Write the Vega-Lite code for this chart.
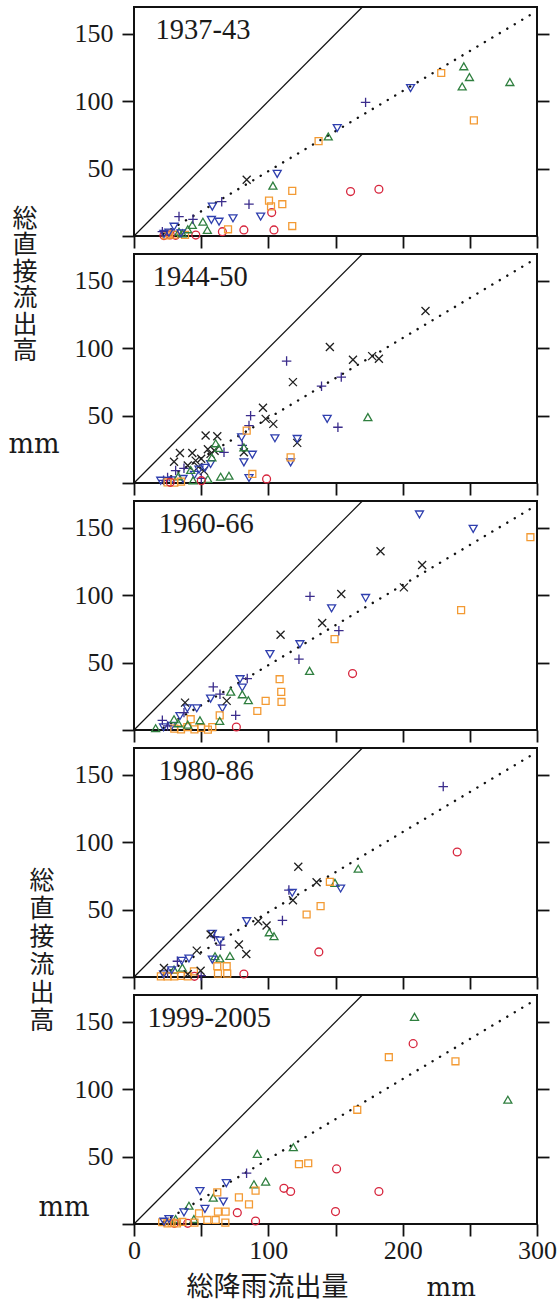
{
"$schema":"https://vega.github.io/schema/vega-lite/v6.json",
"padding":{"left":7,"top":3,"right":0,"bottom":6},
"background":"white",
"bounds":"flush",
"spacing":18,
"datasets":{
"ref":[{"k":"one","x":0,"y":0},{"k":"one","x":170,"y":170},{"k":"fit","x":22,"y":1.7},{"k":"fit","x":300,"y":167.1}],
"pts":[
{"p":"1937-43","s":"circle","x":161.2,"y":33.0},{"p":"1937-43","s":"circle","x":182.3,"y":34.7},{"p":"1937-43","s":"circle","x":102.5,"y":17.4},{"p":"1937-43","s":"circle","x":104.2,"y":4.5},{"p":"1937-43","s":"circle","x":81.8,"y":4.5},{"p":"1937-43","s":"circle","x":65.8,"y":3.2},{"p":"1937-43","s":"circle","x":46,"y":0.7},{"p":"1937-43","s":"circle","x":31,"y":0.5},{"p":"1937-43","s":"circle","x":22.3,"y":0.3},{"p":"1937-43","s":"circle","x":27,"y":0.8},
{"p":"1937-43","s":"square","x":228.7,"y":121},{"p":"1937-43","s":"square","x":253,"y":85.8},{"p":"1937-43","s":"square","x":137.4,"y":70.4},{"p":"1937-43","s":"square","x":117.8,"y":33.5},{"p":"1937-43","s":"square","x":100.5,"y":26.3},{"p":"1937-43","s":"square","x":110.4,"y":23.6},{"p":"1937-43","s":"square","x":102,"y":22},{"p":"1937-43","s":"square","x":117.8,"y":7.4},{"p":"1937-43","s":"square","x":70,"y":5},{"p":"1937-43","s":"square","x":23.6,"y":0.5},{"p":"1937-43","s":"square","x":30,"y":1},{"p":"1937-43","s":"square","x":38,"y":0.8},{"p":"1937-43","s":"square","x":26,"y":2},
{"p":"1937-43","s":"triangle-up","x":245.5,"y":126},{"p":"1937-43","s":"triangle-up","x":249.7,"y":118},{"p":"1937-43","s":"triangle-up","x":244.3,"y":111},{"p":"1937-43","s":"triangle-up","x":279.8,"y":114.3},{"p":"1937-43","s":"triangle-up","x":144.6,"y":73.9},{"p":"1937-43","s":"triangle-up","x":103.4,"y":37.4},{"p":"1937-43","s":"triangle-up","x":51.3,"y":10.6},{"p":"1937-43","s":"triangle-up","x":43.4,"y":8.2},{"p":"1937-43","s":"triangle-up","x":54.6,"y":4.5},{"p":"1937-43","s":"triangle-up","x":33.5,"y":3.2},{"p":"1937-43","s":"triangle-up","x":40,"y":5},{"p":"1937-43","s":"triangle-up","x":36,"y":2},
{"p":"1937-43","s":"triangle-down","x":205.9,"y":109.8},{"p":"1937-43","s":"triangle-down","x":151.3,"y":80.1},{"p":"1937-43","s":"triangle-down","x":106.6,"y":46.1},{"p":"1937-43","s":"triangle-down","x":94.3,"y":14.4},{"p":"1937-43","s":"triangle-down","x":73.7,"y":13.1},{"p":"1937-43","s":"triangle-down","x":58.3,"y":21.8},{"p":"1937-43","s":"triangle-down","x":57.6,"y":11.9},{"p":"1937-43","s":"triangle-down","x":63.3,"y":10.6},{"p":"1937-43","s":"triangle-down","x":29.8,"y":6.9},{"p":"1937-43","s":"triangle-down","x":26,"y":2.5},{"p":"1937-43","s":"triangle-down","x":22.3,"y":1.5},{"p":"1937-43","s":"triangle-down","x":35,"y":2},
{"p":"1937-43","s":"cross","x":172.4,"y":99.2},{"p":"1937-43","s":"cross","x":85.6,"y":23.6},{"p":"1937-43","s":"cross","x":65.3,"y":25.5},{"p":"1937-43","s":"cross","x":33.5,"y":14.4},{"p":"1937-43","s":"cross","x":43.9,"y":12.4},{"p":"1937-43","s":"cross","x":21.1,"y":3.2},
{"p":"1937-43","s":"x","x":83.9,"y":41.7},

{"p":"1944-50","s":"x","x":217,"y":127.7},{"p":"1944-50","s":"x","x":145.8,"y":100.9},{"p":"1944-50","s":"x","x":163,"y":91.5},{"p":"1944-50","s":"x","x":177.3,"y":94.2},{"p":"1944-50","s":"x","x":182.3,"y":92.3},{"p":"1944-50","s":"x","x":118.3,"y":74.9},{"p":"1944-50","s":"x","x":96,"y":55.8},{"p":"1944-50","s":"x","x":98,"y":47.6},{"p":"1944-50","s":"x","x":103.7,"y":43.9},{"p":"1944-50","s":"x","x":121.5,"y":29.8},{"p":"1944-50","s":"x","x":53.3,"y":35.2},{"p":"1944-50","s":"x","x":62,"y":34.7},{"p":"1944-50","s":"x","x":57,"y":21.6},{"p":"1944-50","s":"x","x":81.8,"y":22.8},{"p":"1944-50","s":"x","x":34.2,"y":22.3},{"p":"1944-50","s":"x","x":43.4,"y":22.3},{"p":"1944-50","s":"x","x":29.8,"y":15.8},{"p":"1944-50","s":"x","x":45.9,"y":16.6},{"p":"1944-50","s":"x","x":50,"y":18},{"p":"1944-50","s":"x","x":55,"y":25},{"p":"1944-50","s":"x","x":40,"y":13},{"p":"1944-50","s":"x","x":48,"y":12},{"p":"1944-50","s":"x","x":52,"y":9},{"p":"1944-50","s":"x","x":60,"y":24},
{"p":"1944-50","s":"cross","x":113.6,"y":90.5},{"p":"1944-50","s":"cross","x":154.3,"y":78.6},{"p":"1944-50","s":"cross","x":139.6,"y":71.9},{"p":"1944-50","s":"cross","x":151.8,"y":41.4},{"p":"1944-50","s":"cross","x":86.8,"y":50},{"p":"1944-50","s":"cross","x":85.6,"y":42.6},{"p":"1944-50","s":"cross","x":67,"y":22.8},{"p":"1944-50","s":"cross","x":37.2,"y":10.9},{"p":"1944-50","s":"cross","x":31,"y":9.2},{"p":"1944-50","s":"cross","x":50.1,"y":3.5},{"p":"1944-50","s":"cross","x":25,"y":4},{"p":"1944-50","s":"cross","x":22,"y":2},{"p":"1944-50","s":"cross","x":80.6,"y":28},
{"p":"1944-50","s":"triangle-down","x":143.8,"y":47.6},{"p":"1944-50","s":"triangle-down","x":104.9,"y":33.2},{"p":"1944-50","s":"triangle-down","x":121.5,"y":32.7},{"p":"1944-50","s":"triangle-down","x":116.6,"y":15.3},{"p":"1944-50","s":"triangle-down","x":80.1,"y":33.9},{"p":"1944-50","s":"triangle-down","x":81.8,"y":15.3},{"p":"1944-50","s":"triangle-down","x":88.1,"y":21},{"p":"1944-50","s":"triangle-down","x":85.6,"y":3.7},{"p":"1944-50","s":"triangle-down","x":48.4,"y":9.9},{"p":"1944-50","s":"triangle-down","x":57,"y":14.1},{"p":"1944-50","s":"triangle-down","x":52.8,"y":11.2},{"p":"1944-50","s":"triangle-down","x":36.5,"y":3},{"p":"1944-50","s":"triangle-down","x":19.9,"y":1.7},{"p":"1944-50","s":"triangle-down","x":28,"y":2},{"p":"1944-50","s":"triangle-down","x":45,"y":6},
{"p":"1944-50","s":"triangle-up","x":174.1,"y":48.9},{"p":"1944-50","s":"triangle-up","x":60.8,"y":29.5},{"p":"1944-50","s":"triangle-up","x":81.8,"y":26.5},{"p":"1944-50","s":"triangle-up","x":42.2,"y":9.7},{"p":"1944-50","s":"triangle-up","x":64.5,"y":4.7},{"p":"1944-50","s":"triangle-up","x":70.7,"y":5.4},{"p":"1944-50","s":"triangle-up","x":63,"y":26},{"p":"1944-50","s":"triangle-up","x":58,"y":19},{"p":"1944-50","s":"triangle-up","x":33,"y":5},{"p":"1944-50","s":"triangle-up","x":55,"y":3},{"p":"1944-50","s":"triangle-up","x":44,"y":2},
{"p":"1944-50","s":"square","x":83.9,"y":38.9},{"p":"1944-50","s":"square","x":116.6,"y":19},{"p":"1944-50","s":"square","x":88.1,"y":6.7},{"p":"1944-50","s":"square","x":25,"y":0.5},{"p":"1944-50","s":"square","x":30,"y":0.3},{"p":"1944-50","s":"square","x":35,"y":1},
{"p":"1944-50","s":"circle","x":98.7,"y":3},{"p":"1944-50","s":"circle","x":50.1,"y":1.7},{"p":"1944-50","s":"circle","x":27,"y":0.5},

{"p":"1960-66","s":"triangle-down","x":212.5,"y":160},{"p":"1960-66","s":"triangle-down","x":252.5,"y":149.3},{"p":"1960-66","s":"triangle-down","x":172.4,"y":98},{"p":"1960-66","s":"triangle-down","x":147.1,"y":90.3},{"p":"1960-66","s":"triangle-down","x":123.5,"y":63.7},{"p":"1960-66","s":"triangle-down","x":101.2,"y":56.3},{"p":"1960-66","s":"triangle-down","x":78.9,"y":37.7},{"p":"1960-66","s":"triangle-down","x":80.6,"y":31.5},{"p":"1960-66","s":"triangle-down","x":57,"y":23.3},{"p":"1960-66","s":"triangle-down","x":65.8,"y":16.1},{"p":"1960-66","s":"triangle-down","x":46.7,"y":16.1},{"p":"1960-66","s":"triangle-down","x":39.7,"y":16.1},{"p":"1960-66","s":"triangle-down","x":34.2,"y":10.4},{"p":"1960-66","s":"triangle-down","x":22,"y":2},{"p":"1960-66","s":"triangle-down","x":28,"y":3},
{"p":"1960-66","s":"square","x":295.1,"y":143.1},{"p":"1960-66","s":"square","x":243.5,"y":89},{"p":"1960-66","s":"square","x":149.3,"y":67.5},{"p":"1960-66","s":"square","x":108.4,"y":37.7},{"p":"1960-66","s":"square","x":109.6,"y":28.3},{"p":"1960-66","s":"square","x":109.8,"y":20.8},{"p":"1960-66","s":"square","x":98,"y":21.6},{"p":"1960-66","s":"square","x":91.8,"y":14.1},{"p":"1960-66","s":"square","x":63.8,"y":10.9},{"p":"1960-66","s":"square","x":58.3,"y":2.2},{"p":"1960-66","s":"square","x":42.2,"y":8},{"p":"1960-66","s":"square","x":39.7,"y":2.2},{"p":"1960-66","s":"square","x":30,"y":1},{"p":"1960-66","s":"square","x":35,"y":0.5},{"p":"1960-66","s":"square","x":45,"y":0.5},{"p":"1960-66","s":"square","x":50,"y":1.5},{"p":"1960-66","s":"square","x":55,"y":0.3},
{"p":"1960-66","s":"x","x":183.5,"y":132.7},{"p":"1960-66","s":"x","x":214.5,"y":122.5},{"p":"1960-66","s":"x","x":200.9,"y":105.9},{"p":"1960-66","s":"x","x":154.3,"y":100.9},{"p":"1960-66","s":"x","x":140.1,"y":79.4},{"p":"1960-66","s":"x","x":109.1,"y":70.7},{"p":"1960-66","s":"x","x":69,"y":21.6},{"p":"1960-66","s":"x","x":38,"y":20.3},
{"p":"1960-66","s":"cross","x":131,"y":99.2},{"p":"1960-66","s":"cross","x":152.5,"y":73.7},{"p":"1960-66","s":"cross","x":122.8,"y":52.6},{"p":"1960-66","s":"cross","x":84.3,"y":38.2},{"p":"1960-66","s":"cross","x":59,"y":32},{"p":"1960-66","s":"cross","x":64,"y":26.6},{"p":"1960-66","s":"cross","x":75.7,"y":10.9},{"p":"1960-66","s":"cross","x":37.2,"y":12.9},{"p":"1960-66","s":"cross","x":21.1,"y":7.2},{"p":"1960-66","s":"cross","x":25,"y":3},
{"p":"1960-66","s":"triangle-up","x":130.7,"y":43.9},{"p":"1960-66","s":"triangle-up","x":72,"y":28.5},{"p":"1960-66","s":"triangle-up","x":85.1,"y":22.1},{"p":"1960-66","s":"triangle-up","x":80.6,"y":26.5},{"p":"1960-66","s":"triangle-up","x":49.1,"y":7.2},{"p":"1960-66","s":"triangle-up","x":63.8,"y":6.7},{"p":"1960-66","s":"triangle-up","x":29.8,"y":8},{"p":"1960-66","s":"triangle-up","x":16.1,"y":1.3},{"p":"1960-66","s":"triangle-up","x":33,"y":5},{"p":"1960-66","s":"triangle-up","x":40,"y":4},
{"p":"1960-66","s":"circle","x":162.7,"y":41.9},{"p":"1960-66","s":"circle","x":76.2,"y":2.2},

{"p":"1980-86","s":"cross","x":230.2,"y":141.4},{"p":"1980-86","s":"cross","x":115.3,"y":64.5},{"p":"1980-86","s":"cross","x":110.5,"y":42},{"p":"1980-86","s":"cross","x":64.5,"y":23.6},{"p":"1980-86","s":"cross","x":32.3,"y":11.7},{"p":"1980-86","s":"cross","x":60,"y":30},{"p":"1980-86","s":"cross","x":25,"y":3},{"p":"1980-86","s":"cross","x":50,"y":1},
{"p":"1980-86","s":"circle","x":240.6,"y":92.8},{"p":"1980-86","s":"circle","x":137.6,"y":18.6},{"p":"1980-86","s":"circle","x":81.8,"y":2.2},{"p":"1980-86","s":"circle","x":45,"y":0.5},
{"p":"1980-86","s":"triangle-up","x":166.9,"y":80.4},{"p":"1980-86","s":"triangle-up","x":149.6,"y":69.9},{"p":"1980-86","s":"triangle-up","x":100.7,"y":33.2},{"p":"1980-86","s":"triangle-up","x":104.2,"y":30.3},{"p":"1980-86","s":"triangle-up","x":64,"y":13.7},{"p":"1980-86","s":"triangle-up","x":60.3,"y":15.4},{"p":"1980-86","s":"triangle-up","x":71.4,"y":15.6},{"p":"1980-86","s":"triangle-up","x":29.8,"y":5.5},{"p":"1980-86","s":"triangle-up","x":36,"y":7},
{"p":"1980-86","s":"square","x":145.8,"y":70.7},{"p":"1980-86","s":"square","x":138.9,"y":52.6},{"p":"1980-86","s":"square","x":128.5,"y":46.4},{"p":"1980-86","s":"square","x":62,"y":8},{"p":"1980-86","s":"square","x":69,"y":8},{"p":"1980-86","s":"square","x":62.5,"y":2.5},{"p":"1980-86","s":"square","x":69.4,"y":2.5},{"p":"1980-86","s":"square","x":44.6,"y":4.2},{"p":"1980-86","s":"square","x":20,"y":0.5},{"p":"1980-86","s":"square","x":25,"y":0.5},{"p":"1980-86","s":"square","x":30,"y":0.5},{"p":"1980-86","s":"square","x":35,"y":0.8},{"p":"1980-86","s":"square","x":40,"y":0.5},
{"p":"1980-86","s":"triangle-down","x":153.8,"y":65.7},{"p":"1980-86","s":"triangle-down","x":117.8,"y":62.5},{"p":"1980-86","s":"triangle-down","x":83.9,"y":41.4},{"p":"1980-86","s":"triangle-down","x":58.3,"y":32},{"p":"1980-86","s":"triangle-down","x":64,"y":27.1},{"p":"1980-86","s":"triangle-down","x":58.3,"y":12.9},{"p":"1980-86","s":"triangle-down","x":40.9,"y":13.7},{"p":"1980-86","s":"triangle-down","x":35.5,"y":12},{"p":"1980-86","s":"triangle-down","x":28,"y":5},{"p":"1980-86","s":"triangle-down","x":22,"y":2},
{"p":"1980-86","s":"x","x":122.3,"y":81.8},{"p":"1980-86","s":"x","x":135.9,"y":70.4},{"p":"1980-86","s":"x","x":118.3,"y":57},{"p":"1980-86","s":"x","x":92.5,"y":41.4},{"p":"1980-86","s":"x","x":98.7,"y":38.2},{"p":"1980-86","s":"x","x":57,"y":31.5},{"p":"1980-86","s":"x","x":78.1,"y":24.1},{"p":"1980-86","s":"x","x":83.6,"y":17.1},{"p":"1980-86","s":"x","x":46.7,"y":19.6},{"p":"1980-86","s":"x","x":49.6,"y":4.7},{"p":"1980-86","s":"x","x":22.3,"y":6.7},{"p":"1980-86","s":"x","x":40,"y":2},

{"p":"1999-2005","s":"triangle-up","x":208.8,"y":153.8},{"p":"1999-2005","s":"triangle-up","x":278.3,"y":92.3},{"p":"1999-2005","s":"triangle-up","x":118.6,"y":57},{"p":"1999-2005","s":"triangle-up","x":91.8,"y":52.1},{"p":"1999-2005","s":"triangle-up","x":89.3,"y":29.5},{"p":"1999-2005","s":"triangle-up","x":98,"y":31.5},{"p":"1999-2005","s":"triangle-up","x":59,"y":19.6},{"p":"1999-2005","s":"triangle-up","x":40.9,"y":13.6},{"p":"1999-2005","s":"triangle-up","x":44.6,"y":3.7},{"p":"1999-2005","s":"triangle-up","x":31,"y":3.7},
{"p":"1999-2005","s":"circle","x":207.8,"y":133.9},{"p":"1999-2005","s":"circle","x":150.8,"y":40.9},{"p":"1999-2005","s":"circle","x":111.6,"y":26.5},{"p":"1999-2005","s":"circle","x":116.6,"y":24.1},{"p":"1999-2005","s":"circle","x":182.3,"y":24.1},{"p":"1999-2005","s":"circle","x":150,"y":9.2},{"p":"1999-2005","s":"circle","x":76.9,"y":8.4},{"p":"1999-2005","s":"circle","x":90.5,"y":2.2},{"p":"1999-2005","s":"circle","x":30,"y":0.5},{"p":"1999-2005","s":"circle","x":40,"y":0.5},
{"p":"1999-2005","s":"square","x":189.7,"y":123.8},{"p":"1999-2005","s":"square","x":239.3,"y":120.8},{"p":"1999-2005","s":"square","x":166.2,"y":84.8},{"p":"1999-2005","s":"square","x":122.8,"y":44.4},{"p":"1999-2005","s":"square","x":129.7,"y":45.1},{"p":"1999-2005","s":"square","x":90.5,"y":24.8},{"p":"1999-2005","s":"square","x":62,"y":23.5},{"p":"1999-2005","s":"square","x":78.1,"y":19.8},{"p":"1999-2005","s":"square","x":85.6,"y":14.6},{"p":"1999-2005","s":"square","x":68.2,"y":9.2},{"p":"1999-2005","s":"square","x":62.5,"y":9.2},{"p":"1999-2005","s":"square","x":48.4,"y":7.9},{"p":"1999-2005","s":"square","x":54.6,"y":3},{"p":"1999-2005","s":"square","x":60.8,"y":3},{"p":"1999-2005","s":"square","x":21,"y":1.3},{"p":"1999-2005","s":"square","x":25,"y":0.5},{"p":"1999-2005","s":"square","x":28,"y":1},{"p":"1999-2005","s":"square","x":32,"y":0.5},{"p":"1999-2005","s":"square","x":36,"y":1.5},{"p":"1999-2005","s":"square","x":45,"y":1},{"p":"1999-2005","s":"square","x":68,"y":1},
{"p":"1999-2005","s":"triangle-down","x":68.7,"y":30.3},{"p":"1999-2005","s":"triangle-down","x":49.1,"y":24.5},{"p":"1999-2005","s":"triangle-down","x":66.5,"y":16.6},{"p":"1999-2005","s":"triangle-down","x":52.8,"y":11.2},{"p":"1999-2005","s":"triangle-down","x":37.2,"y":8.6},{"p":"1999-2005","s":"triangle-down","x":26,"y":3.7},{"p":"1999-2005","s":"triangle-down","x":22.3,"y":1.7},
{"p":"1999-2005","s":"cross","x":83.8,"y":37.7}
]},
"vconcat":[
{"width":403,"height":229,
 "resolve":{"axis":{"x":"independent","y":"independent"}},
 "layer":[
  {"data":{"name":"ref"},"transform":[{"filter":"datum.k==='one'"}],"mark":{"type":"line","color":"#111","strokeWidth":1.2},
   "encoding":{"x":{"field":"x","type":"quantitative","scale":{"domain":[0,300],"nice":false},"axis":{"values":[0,50,100,150,200,250,300],"labels":false,"tickSize":12,"title":null}},
   "y":{"field":"y","type":"quantitative","scale":{"domain":[0,170],"nice":false},"axis":{"values":[0,50,100,150],"labelExpr":"datum.value === 0 ? '' : datum.label","tickSize":12,"labelPadding":9,"title":["総","直","接","流","出","高"],"titleFont":"Noto Sans CJK JP","titleFontSize":25,"titleAngle":0,"titleAlign":"left","titleBaseline":"top","titleX":-122,"titleY":199,"titleLineHeight":26.5}}}},
  {"data":{"name":"ref"},"transform":[{"filter":"datum.k==='fit'"}],"mark":{"type":"line","color":"#111","strokeWidth":2.4,"strokeDash":[0.1,8.6],"strokeCap":"round"},
   "encoding":{"x":{"field":"x","type":"quantitative","axis":null},"y":{"field":"y","type":"quantitative","axis":{"orient":"right","values":[50,100,150],"labels":false,"tickSize":12,"title":null}}}},
  {"data":{"name":"pts"},"transform":[{"filter":"datum.p==='1937-43'"}],"mark":{"type":"point","filled":false,"strokeWidth":1.3,"opacity":1},
   "encoding":{"x":{"field":"x","type":"quantitative","axis":null},"y":{"field":"y","type":"quantitative","axis":null},
   "shape":{"field":"s","type":"nominal","legend":null,"scale":{"domain":["circle","square","triangle-up","triangle-down","cross","x"],"range":["circle","square","triangle-up","triangle-down","M-1,0L1,0M0,-1L0,1","M-0.8,-0.8L0.8,0.8M-0.8,0.8L0.8,-0.8"]}},
   "color":{"field":"s","type":"nominal","legend":null,"scale":{"domain":["circle","square","triangle-up","triangle-down","cross","x"],"range":["#d7263d","#f39a33","#2f7f3f","#2f3fae","#3b2c8c","#1f1f1f"]}},
   "size":{"field":"s","type":"nominal","legend":null,"scale":{"type":"ordinal","domain":["circle","square","triangle-up","triangle-down","cross","x"],"range":[62,48,64,64,90,100]}}}},
  {"data":{"values":[{"t":"1937-43","x":16,"y":146}]},"mark":{"type":"text","align":"left","baseline":"alphabetic","font":"Liberation Serif","fontSize":28.5,"color":"#1a1a1a"},
   "encoding":{"x":{"field":"x","type":"quantitative","axis":null},"y":{"field":"y","type":"quantitative","axis":null},"text":{"field":"t"}}}
 ]},
{"width":403,"height":229,
 "resolve":{"axis":{"x":"independent","y":"independent"}},
 "layer":[
  {"data":{"name":"ref"},"transform":[{"filter":"datum.k==='one'"}],"mark":{"type":"line","color":"#111","strokeWidth":1.2},
   "encoding":{"x":{"field":"x","type":"quantitative","scale":{"domain":[0,300],"nice":false},"axis":{"values":[0,50,100,150,200,250,300],"labels":false,"tickSize":12,"title":null}},
   "y":{"field":"y","type":"quantitative","scale":{"domain":[0,170],"nice":false},"axis":{"values":[0,50,100,150],"labelExpr":"datum.value === 0 ? '' : datum.label","tickSize":12,"labelPadding":9,"title":"mm","titleFont":"DejaVu Serif","titleFontSize":27,"titleAngle":0,"titleAlign":"left","titleBaseline":"alphabetic","titleX":-126,"titleY":198}}}},
  {"data":{"name":"ref"},"transform":[{"filter":"datum.k==='fit'"}],"mark":{"type":"line","color":"#111","strokeWidth":2.4,"strokeDash":[0.1,8.6],"strokeCap":"round"},
   "encoding":{"x":{"field":"x","type":"quantitative","axis":null},"y":{"field":"y","type":"quantitative","axis":{"orient":"right","values":[50,100,150],"labels":false,"tickSize":12,"title":null}}}},
  {"data":{"name":"pts"},"transform":[{"filter":"datum.p==='1944-50'"}],"mark":{"type":"point","filled":false,"strokeWidth":1.3,"opacity":1},
   "encoding":{"x":{"field":"x","type":"quantitative","axis":null},"y":{"field":"y","type":"quantitative","axis":null},
   "shape":{"field":"s","type":"nominal","legend":null,"scale":{"domain":["circle","square","triangle-up","triangle-down","cross","x"],"range":["circle","square","triangle-up","triangle-down","M-1,0L1,0M0,-1L0,1","M-0.8,-0.8L0.8,0.8M-0.8,0.8L0.8,-0.8"]}},
   "color":{"field":"s","type":"nominal","legend":null,"scale":{"domain":["circle","square","triangle-up","triangle-down","cross","x"],"range":["#d7263d","#f39a33","#2f7f3f","#2f3fae","#3b2c8c","#1f1f1f"]}},
   "size":{"field":"s","type":"nominal","legend":null,"scale":{"type":"ordinal","domain":["circle","square","triangle-up","triangle-down","cross","x"],"range":[62,48,64,64,90,100]}}}},
  {"data":{"values":[{"t":"1944-50","x":14,"y":146}]},"mark":{"type":"text","align":"left","baseline":"alphabetic","font":"Liberation Serif","fontSize":28.5,"color":"#1a1a1a"},
   "encoding":{"x":{"field":"x","type":"quantitative","axis":null},"y":{"field":"y","type":"quantitative","axis":null},"text":{"field":"t"}}}
 ]},
{"width":403,"height":229,
 "resolve":{"axis":{"x":"independent","y":"independent"}},
 "layer":[
  {"data":{"name":"ref"},"transform":[{"filter":"datum.k==='one'"}],"mark":{"type":"line","color":"#111","strokeWidth":1.2},
   "encoding":{"x":{"field":"x","type":"quantitative","scale":{"domain":[0,300],"nice":false},"axis":{"values":[0,50,100,150,200,250,300],"labels":false,"tickSize":12,"title":null}},
   "y":{"field":"y","type":"quantitative","scale":{"domain":[0,170],"nice":false},"axis":{"values":[0,50,100,150],"labelExpr":"datum.value === 0 ? '' : datum.label","tickSize":12,"labelPadding":9,"title":null}}}},
  {"data":{"name":"ref"},"transform":[{"filter":"datum.k==='fit'"}],"mark":{"type":"line","color":"#111","strokeWidth":2.4,"strokeDash":[0.1,8.6],"strokeCap":"round"},
   "encoding":{"x":{"field":"x","type":"quantitative","axis":null},"y":{"field":"y","type":"quantitative","axis":{"orient":"right","values":[50,100,150],"labels":false,"tickSize":12,"title":null}}}},
  {"data":{"name":"pts"},"transform":[{"filter":"datum.p==='1960-66'"}],"mark":{"type":"point","filled":false,"strokeWidth":1.3,"opacity":1},
   "encoding":{"x":{"field":"x","type":"quantitative","axis":null},"y":{"field":"y","type":"quantitative","axis":null},
   "shape":{"field":"s","type":"nominal","legend":null,"scale":{"domain":["circle","square","triangle-up","triangle-down","cross","x"],"range":["circle","square","triangle-up","triangle-down","M-1,0L1,0M0,-1L0,1","M-0.8,-0.8L0.8,0.8M-0.8,0.8L0.8,-0.8"]}},
   "color":{"field":"s","type":"nominal","legend":null,"scale":{"domain":["circle","square","triangle-up","triangle-down","cross","x"],"range":["#d7263d","#f39a33","#2f7f3f","#2f3fae","#3b2c8c","#1f1f1f"]}},
   "size":{"field":"s","type":"nominal","legend":null,"scale":{"type":"ordinal","domain":["circle","square","triangle-up","triangle-down","cross","x"],"range":[62,48,64,64,90,100]}}}},
  {"data":{"values":[{"t":"1960-66","x":18.5,"y":146}]},"mark":{"type":"text","align":"left","baseline":"alphabetic","font":"Liberation Serif","fontSize":28.5,"color":"#1a1a1a"},
   "encoding":{"x":{"field":"x","type":"quantitative","axis":null},"y":{"field":"y","type":"quantitative","axis":null},"text":{"field":"t"}}}
 ]},
{"width":403,"height":229,
 "resolve":{"axis":{"x":"independent","y":"independent"}},
 "layer":[
  {"data":{"name":"ref"},"transform":[{"filter":"datum.k==='one'"}],"mark":{"type":"line","color":"#111","strokeWidth":1.2},
   "encoding":{"x":{"field":"x","type":"quantitative","scale":{"domain":[0,300],"nice":false},"axis":{"values":[0,50,100,150,200,250,300],"labels":false,"tickSize":12,"title":null}},
   "y":{"field":"y","type":"quantitative","scale":{"domain":[0,170],"nice":false},"axis":{"values":[0,50,100,150],"labelExpr":"datum.value === 0 ? '' : datum.label","tickSize":12,"labelPadding":9,"title":["総","直","接","流","出","高"],"titleFont":"Noto Sans CJK JP","titleFontSize":25,"titleAngle":0,"titleAlign":"left","titleBaseline":"top","titleX":-105,"titleY":120,"titleLineHeight":28}}}},
  {"data":{"name":"ref"},"transform":[{"filter":"datum.k==='fit'"}],"mark":{"type":"line","color":"#111","strokeWidth":2.4,"strokeDash":[0.1,8.6],"strokeCap":"round"},
   "encoding":{"x":{"field":"x","type":"quantitative","axis":null},"y":{"field":"y","type":"quantitative","axis":{"orient":"right","values":[50,100,150],"labels":false,"tickSize":12,"title":null}}}},
  {"data":{"name":"pts"},"transform":[{"filter":"datum.p==='1980-86'"}],"mark":{"type":"point","filled":false,"strokeWidth":1.3,"opacity":1},
   "encoding":{"x":{"field":"x","type":"quantitative","axis":null},"y":{"field":"y","type":"quantitative","axis":null},
   "shape":{"field":"s","type":"nominal","legend":null,"scale":{"domain":["circle","square","triangle-up","triangle-down","cross","x"],"range":["circle","square","triangle-up","triangle-down","M-1,0L1,0M0,-1L0,1","M-0.8,-0.8L0.8,0.8M-0.8,0.8L0.8,-0.8"]}},
   "color":{"field":"s","type":"nominal","legend":null,"scale":{"domain":["circle","square","triangle-up","triangle-down","cross","x"],"range":["#d7263d","#f39a33","#2f7f3f","#2f3fae","#3b2c8c","#1f1f1f"]}},
   "size":{"field":"s","type":"nominal","legend":null,"scale":{"type":"ordinal","domain":["circle","square","triangle-up","triangle-down","cross","x"],"range":[62,48,64,64,90,100]}}}},
  {"data":{"values":[{"t":"1980-86","x":18.5,"y":146}]},"mark":{"type":"text","align":"left","baseline":"alphabetic","font":"Liberation Serif","fontSize":28.5,"color":"#1a1a1a"},
   "encoding":{"x":{"field":"x","type":"quantitative","axis":null},"y":{"field":"y","type":"quantitative","axis":null},"text":{"field":"t"}}}
 ]},
{"width":403,"height":229,
 "resolve":{"axis":{"x":"independent","y":"independent"}},
 "layer":[
  {"data":{"name":"ref"},"transform":[{"filter":"datum.k==='one'"}],"mark":{"type":"line","color":"#111","strokeWidth":1.2},
   "encoding":{"x":{"field":"x","type":"quantitative","scale":{"domain":[0,300],"nice":false},"axis":{"values":[0,50,100,150,200,250,300],"labelExpr":"datum.value % 100 === 0 ? datum.label : ''","labelFlush":false,"labelPadding":1,"tickSize":12,"title":"総降雨流出量","titleFont":"Noto Sans CJK JP","titleFontSize":27,"titleAlign":"left","titleBaseline":"alphabetic","titleX":52,"titleY":71}},
   "y":{"field":"y","type":"quantitative","scale":{"domain":[0,170],"nice":false},"axis":{"values":[0,50,100,150],"labelExpr":"datum.value === 0 ? '' : datum.label","tickSize":12,"labelPadding":9,"title":"mm","titleFont":"DejaVu Serif","titleFontSize":27,"titleAngle":0,"titleAlign":"left","titleBaseline":"alphabetic","titleX":-96,"titleY":220}}}},
  {"data":{"name":"ref"},"transform":[{"filter":"datum.k==='fit'"}],"mark":{"type":"line","color":"#111","strokeWidth":2.4,"strokeDash":[0.1,8.6],"strokeCap":"round"},
   "encoding":{"x":{"field":"x","type":"quantitative","axis":null},"y":{"field":"y","type":"quantitative","axis":{"orient":"right","values":[50,100,150],"labels":false,"tickSize":12,"title":null}}}},
  {"data":{"name":"pts"},"transform":[{"filter":"datum.p==='1999-2005'"}],"mark":{"type":"point","filled":false,"strokeWidth":1.3,"opacity":1},
   "encoding":{"x":{"field":"x","type":"quantitative","axis":null},"y":{"field":"y","type":"quantitative","axis":null},
   "shape":{"field":"s","type":"nominal","legend":null,"scale":{"domain":["circle","square","triangle-up","triangle-down","cross","x"],"range":["circle","square","triangle-up","triangle-down","M-1,0L1,0M0,-1L0,1","M-0.8,-0.8L0.8,0.8M-0.8,0.8L0.8,-0.8"]}},
   "color":{"field":"s","type":"nominal","legend":null,"scale":{"domain":["circle","square","triangle-up","triangle-down","cross","x"],"range":["#d7263d","#f39a33","#2f7f3f","#2f3fae","#3b2c8c","#1f1f1f"]}},
   "size":{"field":"s","type":"nominal","legend":null,"scale":{"type":"ordinal","domain":["circle","square","triangle-up","triangle-down","cross","x"],"range":[62,48,64,64,90,100]}}}},
  {"data":{"values":[{"t":"1999-2005","x":10,"y":146}]},"mark":{"type":"text","align":"left","baseline":"alphabetic","font":"Liberation Serif","fontSize":28.5,"color":"#1a1a1a"},
   "encoding":{"x":{"field":"x","type":"quantitative","axis":{"orient":"bottom","ticks":false,"labels":false,"domain":false,"title":"mm","titleFont":"DejaVu Serif","titleFontSize":26,"titleAlign":"left","titleBaseline":"alphabetic","titleX":292,"titleY":71}},"y":{"field":"y","type":"quantitative","axis":null},"text":{"field":"t"}}}
 ]}
],
"config":{
 "view":{"stroke":"#111","strokeWidth":2},
 "axis":{"grid":false,"domain":false,"tickColor":"#111","tickWidth":1.8,"labelFont":"Liberation Serif","labelFontSize":26,"labelColor":"#1a1a1a","titleColor":"#1a1a1a","titleFontWeight":"normal","labelOverlap":false}
}
}
